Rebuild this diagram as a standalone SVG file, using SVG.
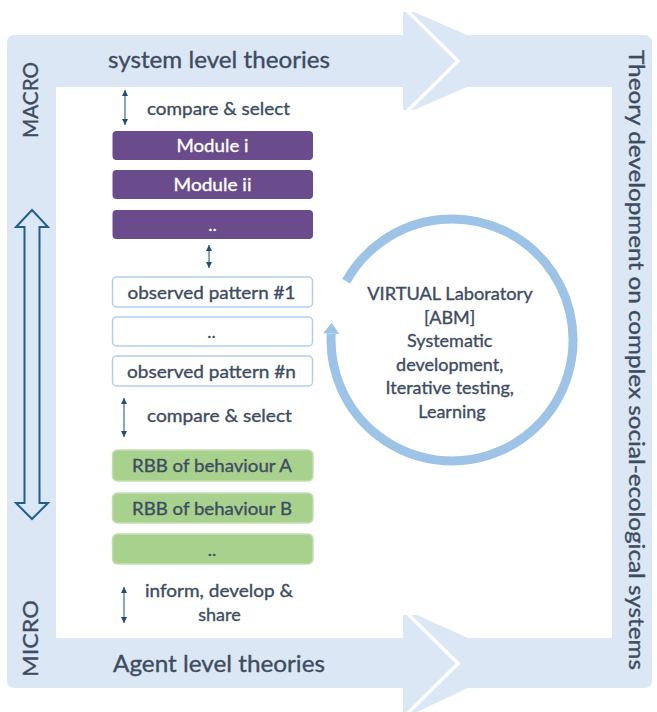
<svg xmlns="http://www.w3.org/2000/svg" width="657" height="712" viewBox="0 0 657 712">
<defs>
<style>
.t{font-family:Lato,"Liberation Sans",Arial,sans-serif;fill:#3e4c61;stroke:#3e4c61;stroke-width:0.35}
.big{font-size:23.4px}
.side{font-size:21.5px}
.lbl{font-size:18px}
.w{fill:#ffffff;stroke:#ffffff}
.mod{fill:#6a4b8c}
.pat{fill:#ffffff;stroke:#b3cdea;stroke-width:1.5}
.rbb{fill:#a9d18e;stroke:#c3dfb0;stroke-width:1.5}
.sa{stroke:#3a6a9a;stroke-width:1.2;fill:none;marker-start:url(#ah);marker-end:url(#ah)}
.lb{fill:#dce7f5}
</style>
<marker id="ah" viewBox="0 0 6 6" refX="6" refY="3" markerWidth="6" markerHeight="7" markerUnits="userSpaceOnUse" orient="auto-start-reverse">
<path d="M0,0 L6,3 L0,6 z" fill="#1f4e79"/>
</marker>
</defs>
<rect width="657" height="712" fill="#ffffff"/>
<g id="frame">
<path class="lb" fill-rule="evenodd" d="M15,35 H644 Q652,35 652,43 V680 Q652,688 644,688 H15 Q7,688 7,680 V43 Q7,35 15,35 Z M56,87 V638 H612 V87 Z"/>
<polygon class="lb" points="403,12 414,12 467,35 403,35"/>
<polygon class="lb" points="403,87 467,87 414,110 403,110"/>
<polyline points="407.5,11 458,61 407.5,111" fill="none" stroke="#ffffff" stroke-width="3.5"/>
<polygon class="lb" points="403,615 417,615 468,638 403,638"/>
<polygon class="lb" points="403,688 468,688 417,712 403,712"/>
<polyline points="408,614 458,663.5 408,713" fill="none" stroke="#ffffff" stroke-width="3.5"/>
</g>
<g id="labels">
<text class="t big" x="219" y="68" text-anchor="middle" textLength="222" lengthAdjust="spacingAndGlyphs">system level theories</text>
<text class="t big" x="219" y="672" text-anchor="middle" textLength="212" lengthAdjust="spacingAndGlyphs">Agent level theories</text>
<text class="t side" transform="translate(38,100) rotate(-90)" text-anchor="middle" textLength="76" lengthAdjust="spacingAndGlyphs">MACRO</text>
<text class="t side" transform="translate(38,638.5) rotate(-90)" text-anchor="middle" textLength="77" lengthAdjust="spacingAndGlyphs">MICRO</text>
<text class="t side" transform="translate(629,360) rotate(90)" text-anchor="middle" textLength="620" lengthAdjust="spacingAndGlyphs">Theory development on complex social-ecological systems</text>
</g>
<g id="scale-arrow">
<path d="M32,210 L48,227 L39.5,227 L39.5,503 L48,503 L32,519 L16,503 L24.5,503 L24.5,227 L16,227 Z" fill="#dce7f5" stroke="#1f5f8f" stroke-width="2" stroke-linejoin="miter"/>
</g>
<g id="connectors">
<line class="sa" x1="125" y1="90" x2="125" y2="125"/>
<line class="sa" x1="209" y1="245" x2="209" y2="268"/>
<line class="sa" x1="124" y1="398" x2="124" y2="437"/>
<line class="sa" x1="124" y1="587" x2="124" y2="623"/>
</g>
<g id="compare-select-1"><text class="t lbl" x="218.5" y="115" text-anchor="middle" textLength="143" lengthAdjust="spacingAndGlyphs">compare &amp; select</text></g>
<g id="module-i"><rect class="mod" x="112.5" y="131" width="200.5" height="29" rx="4"/><text class="t lbl w" x="212.5" y="152" text-anchor="middle" textLength="72" lengthAdjust="spacingAndGlyphs">Module i</text></g>
<g id="module-ii"><rect class="mod" x="112.5" y="170" width="200.5" height="29" rx="4"/><text class="t lbl w" x="212.5" y="191" text-anchor="middle" textLength="78" lengthAdjust="spacingAndGlyphs">Module ii</text></g>
<g id="module-more"><rect class="mod" x="112.5" y="210" width="200.5" height="29" rx="4"/><text class="t lbl w" x="212.5" y="231" text-anchor="middle">..</text></g>
<g id="pattern-1"><rect class="pat" x="112.5" y="277" width="200" height="30" rx="4"/><text class="t lbl" x="211.5" y="298.5" text-anchor="middle" textLength="168" lengthAdjust="spacingAndGlyphs">observed pattern #1</text></g>
<g id="pattern-more"><rect class="pat" x="112.5" y="317" width="200" height="29" rx="4"/><text class="t lbl" x="211.5" y="338" text-anchor="middle">..</text></g>
<g id="pattern-n"><rect class="pat" x="112.5" y="356" width="200" height="30" rx="4"/><text class="t lbl" x="211.5" y="377.5" text-anchor="middle" textLength="169" lengthAdjust="spacingAndGlyphs">observed pattern #n</text></g>
<g id="compare-select-2"><text class="t lbl" x="219.5" y="422" text-anchor="middle" textLength="145" lengthAdjust="spacingAndGlyphs">compare &amp; select</text></g>
<g id="rbb-a"><rect class="rbb" x="112.5" y="450" width="200.5" height="31" rx="5"/><text class="t lbl" x="212" y="472" text-anchor="middle" textLength="160" lengthAdjust="spacingAndGlyphs">RBB of behaviour A</text></g>
<g id="rbb-b"><rect class="rbb" x="112.5" y="493" width="200.5" height="30" rx="5"/><text class="t lbl" x="212" y="514.5" text-anchor="middle" textLength="160" lengthAdjust="spacingAndGlyphs">RBB of behaviour B</text></g>
<g id="rbb-more"><rect class="rbb" x="112.5" y="534" width="200.5" height="30" rx="5"/><text class="t lbl" x="212" y="555.5" text-anchor="middle">..</text></g>
<g id="inform"><text class="t lbl" x="219" y="597" text-anchor="middle" textLength="148" lengthAdjust="spacingAndGlyphs">inform, develop &amp;</text><text class="t lbl" x="219.5" y="621" text-anchor="middle">share</text></g>
<g id="virtual-lab">
<path d="M346.2,281.3 A121,121 0 1 1 331.2,333.7" fill="none" stroke="#9dc3e6" stroke-width="9"/>
<polygon points="323.2,333.3 339.2,334.1 331.7,322.7" fill="#9dc3e6"/>
<text class="t lbl" text-anchor="middle">
<tspan x="452" y="300" textLength="165" lengthAdjust="spacingAndGlyphs">VIRTUAL Laboratory</tspan>
<tspan x="452" y="323.6">[ABM]</tspan>
<tspan x="452" y="347.2">Systematic</tspan>
<tspan x="452" y="370.8">development,</tspan>
<tspan x="452" y="394.4">Iterative testing,</tspan>
<tspan x="452" y="418">Learning</tspan>
</text>
</g>
</svg>
